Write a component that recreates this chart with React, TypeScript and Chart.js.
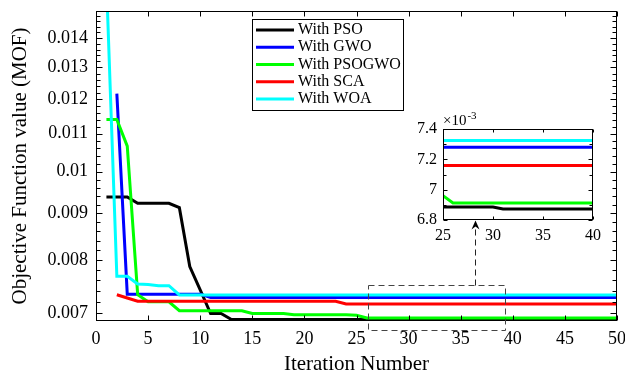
import React, { useEffect, useRef } from 'react';
import { Chart, registerables } from 'chart.js';

Chart.register(...registerables);

const FONT = '"Liberation Serif", "Times New Roman", serif';

// ---------- data ----------
const iterations = [
  1, 2, 3, 4, 5, 6, 7, 8, 9, 10,
  11, 12, 13, 14, 15, 16, 17, 18, 19, 20,
  21, 22, 23, 24, 25, 26, 27, 28, 29, 30,
  31, 32, 33, 34, 35, 36, 37, 38, 39, 40,
  41, 42, 43, 44, 45, 46, 47, 48, 49, 50,
];

const psoValues = [
  0.00938, 0.00938, 0.00938, 0.00923, 0.00923, 0.00923, 0.00923, 0.00913, 0.00787, 0.00742,
  0.00699, 0.00699, 0.006886, 0.006886, 0.006886, 0.006886, 0.006886, 0.006886, 0.006886, 0.006886,
  0.006886, 0.006886, 0.006886, 0.006886, 0.006886, 0.006886, 0.006886, 0.006886, 0.006886, 0.006886,
  0.006873, 0.006873, 0.006873, 0.006873, 0.006873, 0.006873, 0.006873, 0.006873, 0.006873, 0.006873,
  0.006873, 0.006873, 0.006873, 0.006873, 0.006873, 0.006873, 0.006873, 0.006873, 0.006873, 0.006873,
];

const gwoValues = [
  null, 0.01217, 0.00734, 0.00734, 0.00734, 0.00734, 0.00734, 0.00734, 0.00734, 0.00734,
  0.00728, 0.00728, 0.00728, 0.00728, 0.00728, 0.00728, 0.00728, 0.00728, 0.00728, 0.00728,
  0.00728, 0.00728, 0.00728, 0.00728, 0.00728, 0.00728, 0.00728, 0.00728, 0.00728, 0.00728,
  0.00728, 0.00728, 0.00728, 0.00728, 0.00728, 0.00728, 0.00728, 0.00728, 0.00728, 0.00728,
  0.00728, 0.00728, 0.00728, 0.00728, 0.00728, 0.00728, 0.00728, 0.00728, 0.00728, 0.00728,
];

const psogwoValues = [
  0.0114, 0.0114, 0.01066, 0.00733, 0.0072, 0.0072, 0.0072, 0.00704, 0.00704, 0.00704,
  0.00704, 0.00704, 0.00704, 0.00704, 0.00699, 0.00699, 0.00699, 0.00699, 0.00697, 0.00697,
  0.00697, 0.00697, 0.00697, 0.00697, 0.00696, 0.006912, 0.006912, 0.006912, 0.006912, 0.006912,
  0.006912, 0.006912, 0.006912, 0.006912, 0.006912, 0.006912, 0.006912, 0.006912, 0.006912, 0.006912,
  0.006912, 0.006912, 0.006912, 0.006912, 0.006912, 0.006912, 0.006912, 0.006912, 0.006912, 0.006912,
];

const scaValues = [
  null, 0.00733, 0.00727, 0.00721, 0.00721, 0.00721, 0.00721, 0.00721, 0.00721, 0.00721,
  0.00721, 0.00721, 0.00721, 0.00721, 0.00721, 0.00721, 0.00721, 0.00721, 0.00721, 0.00721,
  0.00721, 0.00721, 0.00721, 0.00716, 0.00716, 0.00716, 0.00716, 0.00716, 0.00716, 0.00716,
  0.00716, 0.00716, 0.00716, 0.00716, 0.00716, 0.00716, 0.00716, 0.00716, 0.00716, 0.00716,
  0.00716, 0.00716, 0.00716, 0.00716, 0.00716, 0.00716, 0.00716, 0.00716, 0.00716, 0.00716,
];

const woaValues = [
  0.0162, 0.00768, 0.00768, 0.00753, 0.00752, 0.0075, 0.0075, 0.007325, 0.007325, 0.007325,
  0.007325, 0.007325, 0.007325, 0.007325, 0.007325, 0.007325, 0.007325, 0.007325, 0.007325, 0.007325,
  0.007325, 0.007325, 0.007325, 0.007325, 0.007325, 0.007325, 0.007325, 0.007325, 0.007325, 0.007325,
  0.007325, 0.007325, 0.007325, 0.007325, 0.007325, 0.007325, 0.007325, 0.007325, 0.007325, 0.007325,
  0.007325, 0.007325, 0.007325, 0.007325, 0.007325, 0.007325, 0.007325, 0.007325, 0.007325, 0.007325,
];

const seriesLabels = ['With PSO', 'With GWO', 'With PSOGWO', 'With SCA', 'With WOA'];
const seriesColors = ['#000000', '#0000ff', '#00ff00', '#ff0000', '#00ffff'];
const seriesValues = [psoValues, gwoValues, psogwoValues, scaValues, woaValues];

// main axes
const xTickValues = [0, 5, 10, 15, 20, 25, 30, 35, 40, 45, 50];
const xTickLabels = ['0', '5', '10', '15', '20', '25', '30', '35', '40', '45', '50'];
const yTickValues = [0.007, 0.008, 0.009, 0.01, 0.011, 0.012, 0.013, 0.014];
const yTickLabels = ['0.007', '0.008', '0.009', '0.01', '0.011', '0.012', '0.013', '0.014'];
const xMin = 0;
const xMax = 50;
const yMin = 0.00686;
const yMax = 0.01499;
const yMinorStep = 0.0002;

// inset axes
const insetXMin = 25;
const insetXMax = 40;
const insetXTicks = [25, 30, 35, 40];
const insetXTickLabels = ['25', '30', '35', '40'];
const insetYMin = 6.8;
const insetYMax = 7.4;
const insetYTicks = [6.8, 7.0, 7.2, 7.4];
const insetYTickLabels = ['6.8', '7', '7.2', '7.4'];
const insetYMinor = [6.9, 7.1, 7.3];
const insetScale = 1000;

// zoom annotation (data coordinates of the main axes)
const zoomBoxX = [26.1, 39.25];
const zoomBoxY = [0.00671, 0.007511];
const arrowX = 36.35;
const arrowTipY = 0.00884;

// ---------- helpers ----------
const yMinorTicks: number[] = [];
for (let k = 35; k <= 75; k++) {
  const v = k * yMinorStep;
  if (!yTickValues.some((t) => Math.abs(t - v) < 1e-9)) yMinorTicks.push(v);
}

function drawFrame(chart: any, cfg: any) {
  const { ctx, chartArea: a } = chart;
  const xs = chart.scales.x;
  const ys = chart.scales.y;
  const L = Math.round(a.left) + 0.5;
  const R = Math.round(a.right) - 0.5;
  const T = Math.round(a.top) + 0.5;
  const B = Math.round(a.bottom) - 0.5;
  ctx.save();
  ctx.strokeStyle = '#000';
  ctx.lineWidth = 1;
  ctx.beginPath();
  for (const v of cfg.xMajor) {
    const p = Math.round(xs.getPixelForValue(v)) + 0.5;
    ctx.moveTo(p, B);
    ctx.lineTo(p, B - cfg.xLen);
    ctx.moveTo(p, T);
    ctx.lineTo(p, T + cfg.xLen);
  }
  for (const v of cfg.yMajor) {
    const p = Math.round(ys.getPixelForValue(v)) + 0.5;
    ctx.moveTo(L, p);
    ctx.lineTo(L + cfg.yLen, p);
    ctx.moveTo(R, p);
    ctx.lineTo(R - cfg.yLen, p);
  }
  for (const v of cfg.yMinor) {
    const p = Math.round(ys.getPixelForValue(v)) + 0.5;
    if (p < T || p > B) continue;
    ctx.moveTo(L, p);
    ctx.lineTo(L + cfg.yMinorLen, p);
    ctx.moveTo(R, p);
    ctx.lineTo(R - cfg.yMinorLen, p);
  }
  ctx.stroke();
  ctx.strokeRect(L, T, R - L, B - T);
  ctx.restore();
}

const mainDecor = {
  id: 'mainDecor',
  afterDraw(chart: any) {
    drawFrame(chart, {
      xMajor: xTickValues,
      yMajor: yTickValues,
      yMinor: yMinorTicks,
      xLen: 5,
      yLen: 6,
      yMinorLen: 4,
    });
    const { ctx } = chart;
    const xs = chart.scales.x;
    const ys = chart.scales.y;

    // zoom box
    ctx.save();
    ctx.strokeStyle = '#444';
    ctx.lineWidth = 1;
    ctx.setLineDash([6, 4]);
    const bx0 = Math.round(xs.getPixelForValue(zoomBoxX[0])) + 0.5;
    const bx1 = Math.round(xs.getPixelForValue(zoomBoxX[1])) + 0.5;
    const by0 = Math.round(ys.getPixelForValue(zoomBoxY[0])) + 0.5;
    const by1 = Math.round(ys.getPixelForValue(zoomBoxY[1])) + 0.5;
    ctx.strokeRect(bx0, by1, bx1 - bx0, by0 - by1);

    // arrow
    const ax = Math.round(xs.getPixelForValue(arrowX)) + 0.5;
    const tip = ys.getPixelForValue(arrowTipY);
    ctx.strokeStyle = '#222';
    ctx.beginPath();
    ctx.moveTo(ax, by1);
    ctx.lineTo(ax, tip + 6);
    ctx.stroke();
    ctx.setLineDash([]);
    ctx.fillStyle = '#000';
    ctx.beginPath();
    ctx.moveTo(ax, tip);
    ctx.lineTo(ax - 4, tip + 9);
    ctx.lineTo(ax, tip + 6);
    ctx.lineTo(ax + 4, tip + 9);
    ctx.closePath();
    ctx.fill();
    ctx.restore();

    // legend
    ctx.save();
    const lx = 252;
    const ly = 19;
    const lw = 151;
    const lh = 91;
    ctx.fillStyle = '#fff';
    ctx.fillRect(lx, ly, lw, lh);
    ctx.strokeStyle = '#000';
    ctx.lineWidth = 1;
    ctx.strokeRect(lx + 0.5, ly + 0.5, lw, lh);
    ctx.font = `16px ${FONT}`;
    ctx.textBaseline = 'middle';
    ctx.textAlign = 'left';
    chart.data.datasets.forEach((ds: any, i: number) => {
      const y = ly + 11 + i * 17.25;
      ctx.strokeStyle = ds.borderColor;
      ctx.lineWidth = 3;
      ctx.beginPath();
      ctx.moveTo(lx + 4, y);
      ctx.lineTo(lx + 42, y);
      ctx.stroke();
      ctx.fillStyle = '#000';
      ctx.fillText(ds.label, lx + 46, y);
    });
    ctx.restore();
  },
};

const insetDecor = {
  id: 'insetDecor',
  beforeDraw(chart: any) {
    const { ctx, chartArea: a } = chart;
    ctx.save();
    ctx.fillStyle = '#fff';
    ctx.fillRect(a.left, a.top, a.right - a.left, a.bottom - a.top);
    ctx.restore();
  },
  afterDraw(chart: any) {
    drawFrame(chart, {
      xMajor: insetXTicks,
      yMajor: insetYTicks,
      yMinor: insetYMinor,
      xLen: 3,
      yLen: 4,
      yMinorLen: 3,
    });
    const { ctx, chartArea: a } = chart;
    ctx.save();
    ctx.fillStyle = '#000';
    ctx.textBaseline = 'alphabetic';
    ctx.textAlign = 'left';
    ctx.font = `15px ${FONT}`;
    const base = '\u00d710';
    ctx.fillText(base, a.left, a.top - 4);
    const w = ctx.measureText(base).width;
    ctx.font = `11px ${FONT}`;
    ctx.fillText('-3', a.left + w + 1, a.top - 10);
    ctx.restore();
  },
};

function makeDatasets(values: (number | null)[][], xs: number[], scale: number, lo: number, hi: number) {
  return values.map((vals, i) => ({
    label: seriesLabels[i],
    data: xs
      .map((x, j) => ({ x, y: vals[j] === null ? null : (vals[j] as number) * scale }))
      .filter((p) => p.y !== null && p.x >= lo && p.x <= hi),
    borderColor: seriesColors[i],
    backgroundColor: seriesColors[i],
    borderWidth: 3,
    pointRadius: 0,
    tension: 0,
    fill: false,
    order: values.length - i,
  }));
}

const zeroPadX = (s: any) => {
  s.paddingLeft = 0;
  s.paddingRight = 0;
};
const zeroPadY = (s: any) => {
  s.paddingTop = 0;
  s.paddingBottom = 0;
};

export default function App() {
  const mainRef = useRef<HTMLCanvasElement>(null);
  const insetRef = useRef<HTMLCanvasElement>(null);

  useEffect(() => {
    Chart.defaults.color = '#000';
    Chart.defaults.font.family = FONT;

    const main = new Chart(mainRef.current as HTMLCanvasElement, {
      type: 'line',
      data: { datasets: makeDatasets(seriesValues, iterations, 1, xMin, xMax) as any },
      options: {
        responsive: false,
        animation: false,
        events: [],
        layout: { autoPadding: false, padding: { left: 0, top: 11, right: 8, bottom: 0 } } as any,
        plugins: { legend: { display: false }, tooltip: { enabled: false } },
        scales: {
          x: {
            type: 'linear',
            min: xMin,
            max: xMax,
            grid: { display: false, drawTicks: false },
            border: { display: false },
            afterBuildTicks: (s: any) => {
              s.ticks = xTickValues.map((v) => ({ value: v }));
            },
            afterFit: (s: any) => {
              s.height = 56;
              zeroPadX(s);
            },
            ticks: {
              autoSkip: false,
              maxRotation: 0,
              padding: 7,
              font: { size: 18, family: FONT },
              callback: (_v: any, i: number) => xTickLabels[i],
            },
            title: {
              display: true,
              text: 'Iteration Number',
              font: { size: 21, family: FONT },
              padding: { top: 0, bottom: 0 },
            },
          },
          y: {
            type: 'logarithmic',
            min: yMin,
            max: yMax,
            grid: { display: false, drawTicks: false },
            border: { display: false },
            afterBuildTicks: (s: any) => {
              s.ticks = yTickValues.map((v) => ({ value: v }));
            },
            afterFit: (s: any) => {
              s.width = 96;
              zeroPadY(s);
            },
            ticks: {
              autoSkip: false,
              padding: 8,
              font: { size: 18, family: FONT },
              callback: (_v: any, i: number) => yTickLabels[i],
            },
            title: {
              display: true,
              text: 'Objective Function value (MOF)',
              font: { size: 21, family: FONT },
              padding: { top: 8, bottom: 0 },
            },
          },
        },
      },
      plugins: [mainDecor],
    });

    const inset = new Chart(insetRef.current as HTMLCanvasElement, {
      type: 'line',
      data: { datasets: makeDatasets(seriesValues, iterations, insetScale, insetXMin, insetXMax) as any },
      options: {
        responsive: false,
        animation: false,
        events: [],
        layout: { autoPadding: false, padding: { left: 0, top: 29, right: 22, bottom: 0 } } as any,
        plugins: { legend: { display: false }, tooltip: { enabled: false } },
        scales: {
          x: {
            type: 'linear',
            min: insetXMin,
            max: insetXMax,
            grid: { display: false, drawTicks: false },
            border: { display: false },
            afterBuildTicks: (s: any) => {
              s.ticks = insetXTicks.map((v) => ({ value: v }));
            },
            afterFit: (s: any) => {
              s.height = 30;
              zeroPadX(s);
            },
            ticks: {
              autoSkip: false,
              maxRotation: 0,
              padding: 6,
              font: { size: 16, family: FONT },
              callback: (_v: any, i: number) => insetXTickLabels[i],
            },
          },
          y: {
            type: 'linear',
            min: insetYMin,
            max: insetYMax,
            grid: { display: false, drawTicks: false },
            border: { display: false },
            afterBuildTicks: (s: any) => {
              s.ticks = insetYTicks.map((v) => ({ value: v }));
            },
            afterFit: (s: any) => {
              s.width = 43;
              zeroPadY(s);
            },
            ticks: {
              autoSkip: false,
              padding: 6,
              font: { size: 16, family: FONT },
              callback: (_v: any, i: number) => insetYTickLabels[i],
            },
          },
        },
      },
      plugins: [insetDecor],
    });

    return () => {
      main.destroy();
      inset.destroy();
    };
  }, []);

  return (
    <div
      style={{
        position: 'fixed',
        left: 0,
        top: 0,
        width: 625,
        height: 377,
        background: '#fff',
        overflow: 'hidden',
      }}
    >
      <canvas
        ref={mainRef}
        width={625}
        height={377}
        style={{ position: 'absolute', left: 0, top: 0, width: 625, height: 377 }}
      />
      <canvas
        ref={insetRef}
        width={215}
        height={150}
        style={{ position: 'absolute', left: 400, top: 100, width: 215, height: 150 }}
      />
    </div>
  );
}
